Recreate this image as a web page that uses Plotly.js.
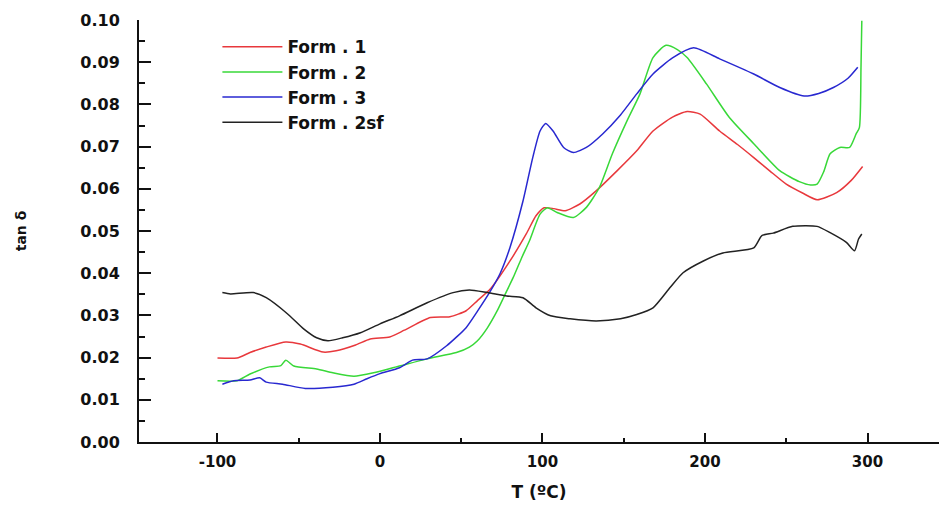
<!DOCTYPE html>
<html>
<head>
<meta charset="utf-8">
<script src="https://cdn.plot.ly/plotly-3.0.1.min.js"></script>
<style>html,body{margin:0;padding:0;background:#fff;}#chart{width:939px;height:505px;}</style>
</head>
<body>
<div id="chart"></div>
<script>
// Form . 1 (red)
const form1T = [-100, -88, -80, -70, -58, -49, -35, -27, -15, -6, 6, 15, 31, 43, 53, 60, 68, 80, 90, 96, 101, 107, 114, 123, 133, 146, 158, 168, 180, 189, 197, 209, 220, 230, 240, 250, 260, 269, 281, 290, 297];
const form1Tan = [0.0199, 0.0199, 0.0212, 0.0225, 0.0237, 0.0232, 0.0213, 0.0216, 0.0230, 0.0244, 0.0249, 0.0265, 0.0295, 0.0297, 0.0311, 0.0335, 0.0363, 0.0429, 0.0493, 0.0536, 0.0555, 0.0553, 0.0548, 0.0564, 0.0595, 0.0643, 0.0690, 0.0737, 0.0770, 0.0783, 0.0777, 0.0737, 0.0705, 0.0674, 0.0642, 0.0611, 0.0590, 0.0574, 0.0591, 0.0620, 0.0653];

// Form . 2 (green)
const form2T = [-100, -88, -80, -68, -61, -58, -53, -39, -29, -16, -4, 12, 29, 47, 55, 60, 66, 72, 77, 82, 87, 92, 98.5, 103, 109, 119, 127, 135, 143, 152, 160, 168, 176, 183, 189, 201, 215, 230, 246, 258, 265, 269, 273, 277, 283, 289, 293, 295, 296, 296.5];
const form2Tan = [0.0145, 0.0145, 0.0161, 0.0178, 0.0181, 0.0194, 0.0180, 0.0173, 0.0164, 0.0156, 0.0164, 0.0180, 0.0197, 0.0212, 0.0225, 0.0240, 0.0270, 0.0310, 0.0350, 0.0390, 0.0435, 0.0477, 0.0540, 0.0555, 0.0544, 0.0532, 0.0556, 0.0603, 0.0683, 0.0761, 0.0825, 0.0911, 0.0940, 0.0930, 0.0911, 0.0848, 0.0769, 0.0707, 0.0643, 0.0617, 0.0609, 0.0611, 0.0640, 0.0683, 0.0698, 0.0698, 0.0730, 0.0745, 0.0888, 0.0998];

// Form . 3 (blue)
const form3T = [-97, -90, -80, -74, -70, -60, -46, -29, -16, -8, 0, 12, 20, 29, 41, 53, 60, 68, 74, 80, 88, 94, 98.5, 102, 106.5, 113, 119, 127, 137, 148, 158, 168, 180, 193, 209, 230, 246, 261, 270, 279, 288, 294];
const form3Tan = [0.0137, 0.0145, 0.0147, 0.0152, 0.0142, 0.0137, 0.0127, 0.0130, 0.0137, 0.0150, 0.0162, 0.0176, 0.0194, 0.0197, 0.0228, 0.0271, 0.0310, 0.0358, 0.0400, 0.0461, 0.0571, 0.0674, 0.0737, 0.0755, 0.0737, 0.0698, 0.0686, 0.0698, 0.0730, 0.0775, 0.0825, 0.0872, 0.0910, 0.0934, 0.0908, 0.0872, 0.0840, 0.0820, 0.0826, 0.0840, 0.0862, 0.0888];

// Form . 2sf (black)
const form2sfT = [-97, -92, -78, -70, -57, -47, -39, -32, -23, -12, 0, 12, 29, 45, 55, 66, 78, 88, 96, 105, 117, 133, 148, 158, 168, 178.5, 186.5, 199, 211, 230, 235, 242, 254, 269, 277, 287, 292, 294.5, 296.5];
const form2sfTan = [0.0354, 0.0351, 0.0354, 0.0342, 0.0304, 0.0268, 0.0247, 0.0240, 0.0247, 0.0259, 0.0280, 0.0299, 0.0330, 0.0354, 0.0360, 0.0354, 0.0346, 0.0342, 0.0318, 0.0299, 0.0292, 0.0287, 0.0292, 0.0302, 0.0318, 0.0366, 0.0401, 0.0429, 0.0448, 0.0460, 0.0489, 0.0495, 0.0511, 0.0511, 0.0496, 0.0473, 0.0453, 0.0481, 0.0493];

const seriesNames = ['Form . 1', 'Form . 2', 'Form . 3', 'Form . 2sf'];
const seriesColors = ['#e8383c', '#38d838', '#2828d0', '#222222'];
const xTickVals = [-100, 0, 100, 200, 300];
const xTickText = ['-100', '0', '100', '200', '300'];
const yTickVals = [0.00, 0.01, 0.02, 0.03, 0.04, 0.05, 0.06, 0.07, 0.08, 0.09, 0.10];

const xs = [form1T, form2T, form3T, form2sfT];
const ys = [form1Tan, form2Tan, form3Tan, form2sfTan];

const traces = xs.map((x, i) => ({
  x: x, y: ys[i], type: 'scatter', mode: 'lines', name: seriesNames[i],
  legendgroup: 'g' + i,
  line: {color: seriesColors[i], width: 1.5, shape: 'spline', smoothing: 0.6}
}));

const fontFam = 'DejaVu Sans, Liberation Sans, Arial, sans-serif';

const layout = {
  width: 939, height: 505,
  margin: {l: 139, r: 0, t: 20, b: 63},
  paper_bgcolor: '#ffffff', plot_bgcolor: '#ffffff',
  font: {family: fontFam, color: '#111111'},
  showlegend: true,
  legend: {
    x: 0.098, y: 0.978, xanchor: 'left', yanchor: 'top',
    bgcolor: 'rgba(0,0,0,0)', tracegroupgap: 0, itemwidth: 60,
    font: {family: fontFam, size: 17, weight: 'bold', color: '#111111'}
  },
  xaxis: {
    range: [-148.3, 344], showgrid: false, zeroline: false,
    showline: true, linecolor: '#111111', linewidth: 2,
    tickmode: 'array', tickvals: xTickVals, ticktext: xTickText,
    ticks: 'inside', ticklen: 9, tickwidth: 2, tickcolor: '#111111',
    minor: {dtick: 50, tick0: 0, ticks: 'inside', ticklen: 4, tickwidth: 2, tickcolor: '#111111'},
    tickfont: {family: fontFam, size: 15, weight: 'bold', color: '#111111'},
    ticklabelstandoff: 5,
    title: {text: 'T (ºC)', standoff: 16, font: {family: fontFam, size: 17, weight: 'bold', color: '#111111'}}
  },
  yaxis: {
    range: [0, 0.1], showgrid: false, zeroline: false,
    showline: true, linecolor: '#111111', linewidth: 2,
    tickmode: 'array', tickvals: yTickVals, tickformat: '.2f',
    ticks: 'inside', ticklen: 12, tickwidth: 2, tickcolor: '#111111',
    minor: {dtick: 0.005, tick0: 0, ticks: 'inside', ticklen: 6, tickwidth: 2, tickcolor: '#111111'},
    tickfont: {family: fontFam, size: 16, weight: 'bold', color: '#111111'},
    ticklabelstandoff: 14,
    title: {text: 'tan δ', standoff: 50, font: {family: fontFam, size: 14, weight: 'bold', color: '#111111'}}
  }
};

Plotly.newPlot('chart', traces, layout, {staticPlot: true, displayModeBar: false});
</script>
</body>
</html>
